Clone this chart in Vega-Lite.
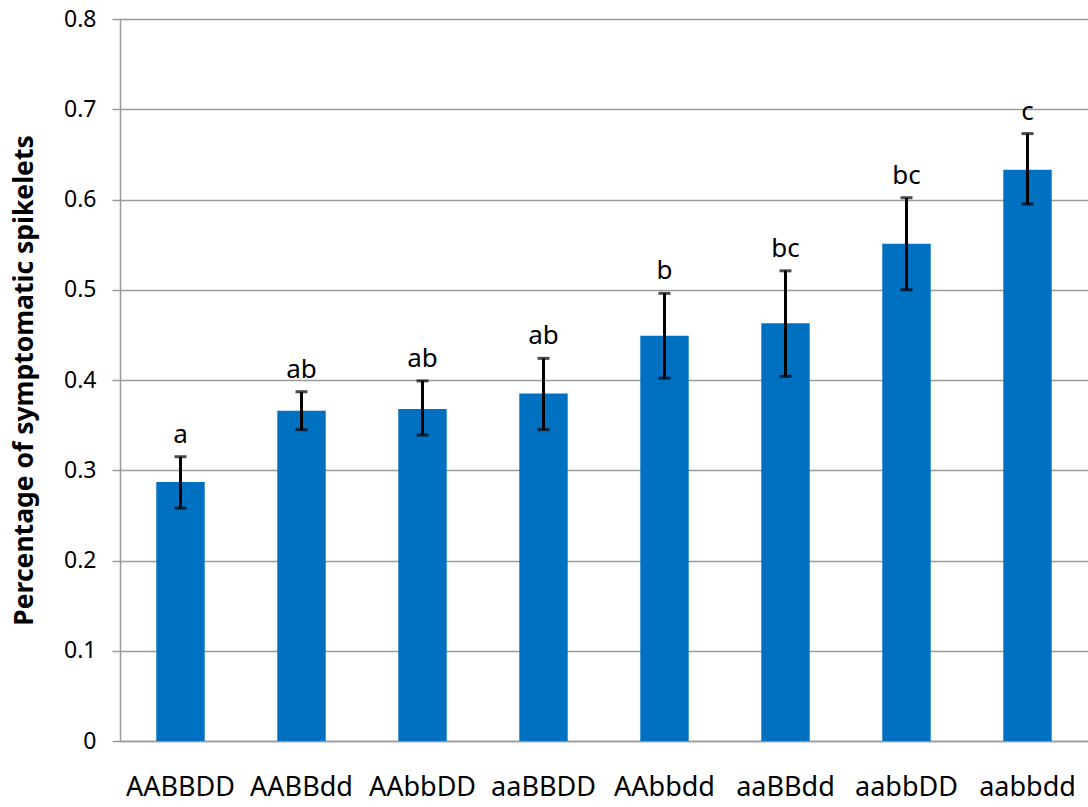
{
  "$schema": "https://vega.github.io/schema/vega-lite/v6.json",
  "autosize": "none",
  "width": 968,
  "height": 722,
  "padding": {"left": 120, "top": 19, "right": 0, "bottom": 66},
  "background": "white",
  "config": {
    "view": {"stroke": null},
    "font": "Noto Sans"
  },
  "data": {
    "values": [
      {"genotype": "AABBDD", "mean": 0.287, "lo": 0.258, "hi": 0.315, "group": "a"},
      {"genotype": "AABBdd", "mean": 0.366, "lo": 0.345, "hi": 0.387, "group": "ab"},
      {"genotype": "AAbbDD", "mean": 0.368, "lo": 0.339, "hi": 0.399, "group": "ab"},
      {"genotype": "aaBBDD", "mean": 0.385, "lo": 0.345, "hi": 0.424, "group": "ab"},
      {"genotype": "AAbbdd", "mean": 0.449, "lo": 0.402, "hi": 0.496, "group": "b"},
      {"genotype": "aaBBdd", "mean": 0.463, "lo": 0.404, "hi": 0.521, "group": "bc"},
      {"genotype": "aabbDD", "mean": 0.551, "lo": 0.500, "hi": 0.602, "group": "bc"},
      {"genotype": "aabbdd", "mean": 0.633, "lo": 0.595, "hi": 0.673, "group": "c"}
    ]
  },
  "encoding": {
    "x": {
      "field": "genotype",
      "type": "nominal",
      "sort": null,
      "scale": {"paddingInner": 0.6, "paddingOuter": 0.3},
      "axis": {
        "title": null,
        "labelAngle": 0,
        "labelFontSize": 27,
        "labelColor": "#000000",
        "labelPadding": 33,
        "labelOverlap": false,
        "ticks": false,
        "domainColor": "#9a9a9a",
        "domainWidth": 1.5
      }
    }
  },
  "layer": [
    {
      "mark": {"type": "bar", "color": "#0070C0"},
      "encoding": {
        "y": {
          "field": "mean",
          "type": "quantitative",
          "scale": {"domain": [0, 0.8], "nice": false},
          "axis": {
            "title": "Percentage of symptomatic spikelets",
            "titleFontSize": 26.5,
            "titleFontWeight": "bold",
            "titleColor": "#000000",
            "titlePadding": 25,
            "values": [0, 0.1, 0.2, 0.3, 0.4, 0.5, 0.6, 0.7, 0.8],
            "labelExpr": "datum.value == 0 ? '0' : format(datum.value, '.1f')",
            "labelFontSize": 23,
            "labelColor": "#000000",
            "labelPadding": 16,
            "labelOverlap": false,
            "tickSize": 8,
            "tickColor": "#9a9a9a",
            "tickWidth": 1.5,
            "domainColor": "#9a9a9a",
            "domainWidth": 1.5,
            "grid": true,
            "gridColor": "#9a9a9a",
            "gridWidth": 1.5
          }
        }
      }
    },
    {
      "mark": {"type": "rule", "color": "#000000", "strokeWidth": 3},
      "encoding": {
        "y": {"field": "lo", "type": "quantitative"},
        "y2": {"field": "hi"}
      }
    },
    {
      "mark": {"type": "tick", "color": "#000000", "thickness": 3, "size": 12, "orient": "horizontal"},
      "encoding": {
        "y": {"field": "hi", "type": "quantitative"}
      }
    },
    {
      "mark": {"type": "tick", "color": "#000000", "thickness": 3, "size": 12, "orient": "horizontal"},
      "encoding": {
        "y": {"field": "lo", "type": "quantitative"}
      }
    },
    {
      "mark": {"type": "text", "fontSize": 26, "color": "#000000", "baseline": "middle", "dy": -22},
      "encoding": {
        "y": {"field": "hi", "type": "quantitative"},
        "text": {"field": "group"}
      }
    }
  ]
}
